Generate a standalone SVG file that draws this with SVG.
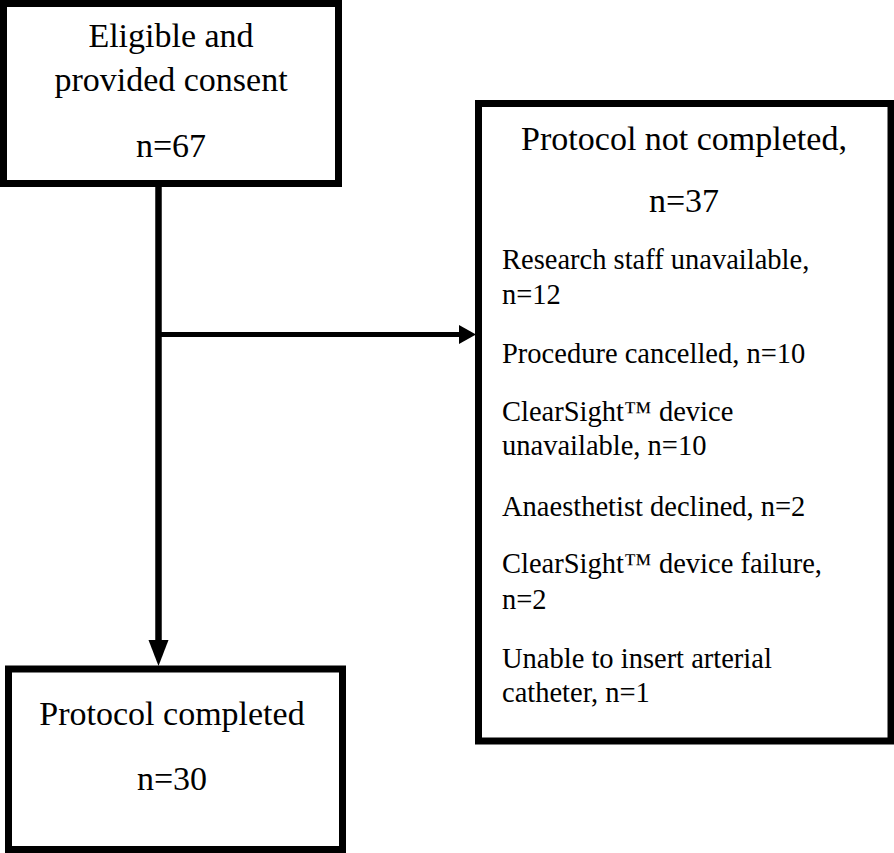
<svg xmlns="http://www.w3.org/2000/svg" width="894" height="853" viewBox="0 0 894 853">
<style>
.box{fill:#fff;stroke:#000;stroke-width:7}
.t{font-family:"Liberation Serif","Times New Roman",serif;fill:#000}
.big{font-size:34px;text-anchor:middle}
.sm{font-size:28.5px}
.ln{stroke:#000;fill:none}
</style>
<rect width="894" height="853" fill="#fff"/>
<g id="connectors">
<line class="ln" x1="158.5" y1="186" x2="158.5" y2="645" stroke-width="6.5"/>
<polygon points="148.5,640 168.5,640 158.5,666"/>
<line class="ln" x1="158.5" y1="334.5" x2="462" y2="334.5" stroke-width="5"/>
<polygon points="459,325 459,344 476,334.5"/>
</g>
<g id="eligible">
<rect class="box" x="3.5" y="3.5" width="335" height="180"/>
<text class="t big" x="171" y="47">Eligible and</text>
<text class="t big" x="171" y="91">provided consent</text>
<text class="t big" x="171" y="157">n=67</text>
</g>
<g id="not-completed">
<rect class="box" x="478.5" y="103.5" width="412.5" height="637.5"/>
<text class="t big" x="684" y="150">Protocol not completed,</text>
<text class="t big" x="684" y="212">n=37</text>
<text class="t sm" x="502" y="269">Research staff unavailable,</text>
<text class="t sm" x="502" y="304">n=12</text>
<text class="t sm" x="502" y="363">Procedure cancelled, n=10</text>
<text class="t sm" x="502" y="421">ClearSight™ device</text>
<text class="t sm" x="502" y="455">unavailable, n=10</text>
<text class="t sm" x="502" y="516">Anaesthetist declined, n=2</text>
<text class="t sm" x="502" y="573">ClearSight™ device failure,</text>
<text class="t sm" x="502" y="609">n=2</text>
<text class="t sm" x="502" y="668">Unable to insert arterial</text>
<text class="t sm" x="502" y="702">catheter, n=1</text>
</g>
<g id="completed">
<rect class="box" x="8.5" y="669" width="334" height="180.5"/>
<text class="t big" x="172" y="725">Protocol completed</text>
<text class="t big" x="172" y="790">n=30</text>
</g>
</svg>
